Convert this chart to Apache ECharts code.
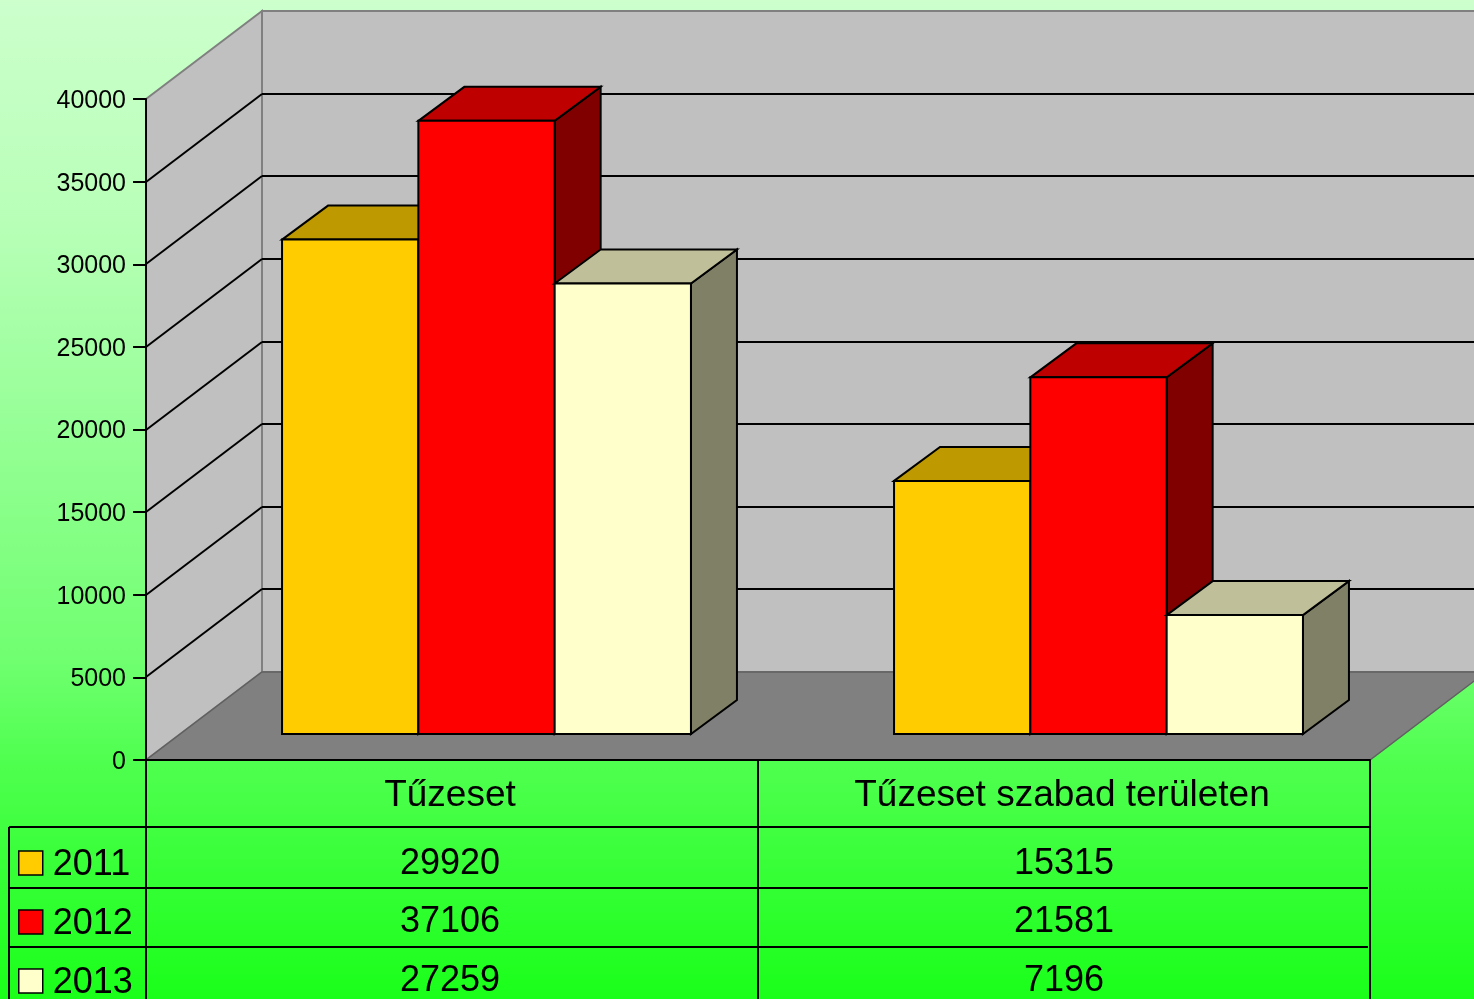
<!DOCTYPE html>
<html>
<head>
<meta charset="utf-8">
<title>Tűzeset</title>
<style>
  html, body { margin: 0; padding: 0; overflow: hidden; }
  #main { width: 1474px; height: 999px; }
</style>
<script src="https://cdn.jsdelivr.net/npm/echarts@6/dist/echarts.min.js"></script>
</head>
<body>
<div id="main"></div>
<script>
const categories = ['Tűzeset', 'Tűzeset szabad területen'];
const years = ['2011', '2012', '2013'];
const values2011 = [29920, 15315];
const values2012 = [37106, 21581];
const values2013 = [27259, 7196];
const frontColors = ['#ffcc00', '#ff0000', '#ffffcc'];
const topColors = ['#bf9900', '#bf0000', '#bfbf99'];
const sideColors = ['#806600', '#800000', '#808066'];

const FONT = '"Liberation Sans", Arial, sans-serif';
// 3d projection, in pixels
const DEPTH_X = 116;
const DEPTH_Y = -88;
const BAR_FRONT_X = 34.5;
const BAR_FRONT_Y = -26;
const BAR_DEPTH_X = 46;
const BAR_DEPTH_Y = -34;
// table under the chart
const ROW_LINES = [827, 888, 947];
const ROW_TEXT_Y = [864, 922, 981];
const TABLE_LEFT = 9;
const TABLE_BOTTOM = 999;

function poly(points, fill, stroke, lineWidth) {
  return {
    type: 'polygon',
    shape: { points: points },
    style: { fill: fill, stroke: stroke, lineWidth: lineWidth, lineJoin: 'miter' }
  };
}

function line(x1, y1, x2, y2, color, width) {
  return {
    type: 'line',
    shape: { x1: x1, y1: y1, x2: x2, y2: y2 },
    style: { stroke: color, lineWidth: width }
  };
}

// back wall, left wall, floor and the gridlines running over them
function renderWalls(params, api) {
  const c = params.coordSys;
  const left = c.x, right = c.x + c.width, top = c.y, bottom = c.y + c.height;
  const y = Math.round(api.coord([0, api.value(1)])[1]);
  const children = [];
  if (params.dataIndex === 0) {
    children.push(poly([[left, top], [left + DEPTH_X, top + DEPTH_Y], [left + DEPTH_X, bottom + DEPTH_Y], [left, bottom]], '#c0c0c0', '#808080', 2));
    children.push(poly([[left + DEPTH_X, top + DEPTH_Y], [right + DEPTH_X, top + DEPTH_Y], [right + DEPTH_X, bottom + DEPTH_Y], [left + DEPTH_X, bottom + DEPTH_Y]], '#c0c0c0', '#808080', 2));
    children.push(poly([[left, bottom], [right, bottom], [right + DEPTH_X, bottom + DEPTH_Y], [left + DEPTH_X, bottom + DEPTH_Y]], '#808080', '#606060', 1.5));
  } else if (api.value(1) < 40000) {
    children.push(line(left, y, left + DEPTH_X, y + DEPTH_Y, '#000', 2));
    children.push(line(left + DEPTH_X, y + DEPTH_Y, right + DEPTH_X, y + DEPTH_Y, '#000', 2));
  }
  return { type: 'group', children: children };
}

function renderBar(k) {
  return function (params, api) {
    const i = api.value(0);
    const v = api.value(1);
    const base = api.coord([i, 0]);
    const head = api.coord([i, v]);
    const w = api.size([1, 0])[0] / 4.49;
    const x0 = base[0] - 1.5 * w + k * w + BAR_FRONT_X;
    const x1 = x0 + w;
    const y0 = base[1] + BAR_FRONT_Y;
    const y1 = head[1] + BAR_FRONT_Y;
    return {
      type: 'group',
      children: [
        poly([[x1, y1], [x1 + BAR_DEPTH_X, y1 + BAR_DEPTH_Y], [x1 + BAR_DEPTH_X, y0 + BAR_DEPTH_Y], [x1, y0]], sideColors[k], '#000', 2),
        poly([[x0, y1], [x0 + BAR_DEPTH_X, y1 + BAR_DEPTH_Y], [x1 + BAR_DEPTH_X, y1 + BAR_DEPTH_Y], [x1, y1]], topColors[k], '#000', 2),
        poly([[x0, y0], [x0, y1], [x1, y1], [x1, y0]], frontColors[k], '#000', 2)
      ]
    };
  };
}

const seriesValues = [values2011, values2012, values2013];
const wallTicks = [0, 5000, 10000, 15000, 20000, 25000, 30000, 35000, 40000];

const chart = echarts.init(document.getElementById('main'));

const option = {
  animation: false,
  backgroundColor: {
    type: 'linear', x: 0, y: 0, x2: 0, y2: 1,
    colorStops: [
      { offset: 0, color: '#ccffcc' },
      { offset: 0.22, color: '#b8ffb8' },
      { offset: 0.66, color: '#70ff70' },
      { offset: 0.76, color: '#50ff50' },
      { offset: 1, color: '#1aff1a' }
    ]
  },
  grid: { left: 146, top: 99, width: 1224, height: 661 },
  legend: {
    data: years,
    orient: 'vertical',
    left: 18,
    top: 843,
    height: 170,
    itemWidth: 24,
    itemHeight: 24,
    itemGap: 19,
    padding: 0,
    icon: 'rect',
    selectedMode: false,
    itemStyle: { borderColor: '#000', borderWidth: 1.5 },
    formatter: '{a|{name}}',
    textStyle: {
      rich: {
        a: { fontFamily: FONT, fontSize: 36, color: '#000', lineHeight: 32, padding: [4, 0, 0, 5] }
      }
    }
  },
  xAxis: {
    type: 'category',
    data: categories,
    z: 6,
    axisLine: { lineStyle: { color: '#000', width: 2 } },
    axisTick: { show: true, length: 67, lineStyle: { color: '#000', width: 2 } },
    axisLabel: { fontFamily: FONT, fontSize: 37, color: '#000', margin: 17, padding: [0, 4, 0, 0] }
  },
  yAxis: {
    type: 'value',
    min: 0,
    max: 40000,
    interval: 5000,
    z: 6,
    splitLine: { show: false },
    axisLine: { show: true, lineStyle: { color: '#000', width: 2 } },
    axisTick: { show: true, length: 13, lineStyle: { color: '#000', width: 2 } },
    axisLabel: {
      fontFamily: FONT,
      fontSize: 25,
      color: '#000',
      margin: 20,
      verticalAlign: 'top',
      lineHeight: 4,
      formatter: function (v) { return String(v); }
    }
  },
  series: [
    {
      type: 'custom',
      name: 'walls',
      silent: true,
      z: 1,
      renderItem: renderWalls,
      encode: { y: 1 },
      data: wallTicks.map(function (t) { return [0, t]; })
    }
  ].concat(years.map(function (year, k) {
    return {
      type: 'custom',
      name: year,
      silent: true,
      z: 2,
      itemStyle: { color: frontColors[k] },
      renderItem: renderBar(k),
      encode: { x: 0, y: 1 },
      data: seriesValues[k].map(function (v, i) { return [i, v]; })
    };
  }))
};

chart.setOption(option);

// data table below the axis
function buildTable() {
  const els = [];
  const origin = chart.convertToPixel({ gridIndex: 0 }, [0, 0]);
  const band = chart.convertToPixel({ gridIndex: 0 }, [1, 0])[0] - origin[0];
  const gridLeft = origin[0] - band / 2;
  const gridRight = gridLeft + 2 * band;
  const style = { stroke: '#000', lineWidth: 2 };

  function seg(x1, y1, x2, y2) {
    els.push({ type: 'line', z: 20, shape: { x1: x1, y1: y1, x2: x2, y2: y2 }, style: style });
  }

  ROW_LINES.forEach(function (y, r) {
    seg(TABLE_LEFT, y, r === 0 ? gridRight : gridRight - 2, y);
  });
  seg(TABLE_LEFT, ROW_LINES[0], TABLE_LEFT, TABLE_BOTTOM);
  seg(gridLeft, ROW_LINES[0], gridLeft, TABLE_BOTTOM);
  seg(gridLeft + band, ROW_LINES[0], gridLeft + band, TABLE_BOTTOM);
  seg(gridRight, origin[1], gridRight, TABLE_BOTTOM);

  seriesValues.forEach(function (vals, r) {
    vals.forEach(function (v, i) {
      els.push({
        type: 'text',
        z: 20,
        x: chart.convertToPixel({ gridIndex: 0 }, [i, 0])[0] - (i === 0 ? 2 : 0),
        y: ROW_TEXT_Y[r],
        style: {
          text: String(v),
          font: '36px ' + FONT,
          fill: '#000',
          align: 'center',
          verticalAlign: 'middle'
        }
      });
    });
  });
  return els;
}

chart.setOption({ graphic: { elements: buildTable() } });
</script>
</body>
</html>
